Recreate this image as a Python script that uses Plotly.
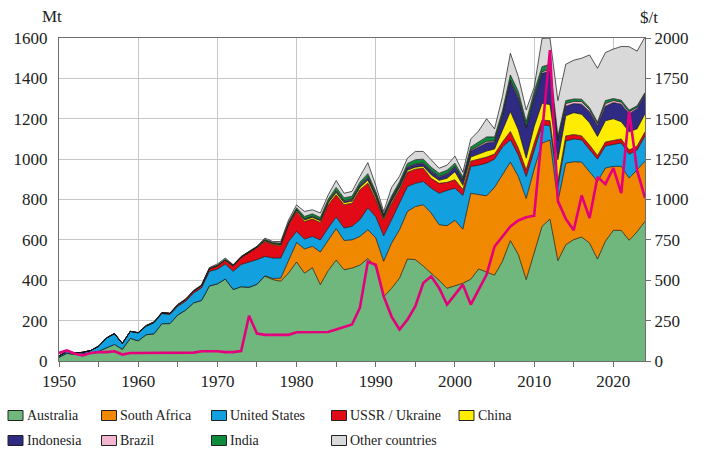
import plotly.graph_objects as go

years = list(range(1950, 2025))

australia = [18, 38, 32, 35, 40, 48, 65, 82, 58, 112,
             100, 130, 135, 185, 185, 228, 252, 288, 300, 372,
             382, 406, 354, 368, 365, 380, 420, 403, 395, 436,
             490, 435, 462, 378, 448, 500, 452, 460, 475, 508,
             465, 318, 360, 410, 505, 502, 470, 435, 400, 360,
             372, 385, 405, 456, 440, 425, 494, 596, 527, 403,
             535, 667, 703, 497, 576, 601, 614, 584, 505, 593,
             647, 647, 598, 640, 692]
south_africa = [0] * 26 + [2, 6, 15, 64,
             97, 120, 106, 162, 152, 156, 145, 140, 142, 142,
             145, 176, 224, 240, 236, 263, 304, 298, 275, 310,
             325, 268, 426, 369, 378, 435, 431, 389, 387, 402,
             415, 412, 392, 293, 404, 386, 371, 355, 384, 363,
             317, 317, 308, 307, 298]
united_states = [7, 10, 8, 8, 12, 25, 49, 54, 29, 35,
             39, 42, 54, 50, 45, 43, 44, 49, 62, 72,
             73, 74, 90, 110, 125, 122, 96, 101, 100, 92,
             55, 49, 49, 60, 59, 57, 62, 67, 83, 108,
             105, 126, 116, 130, 123, 115, 115, 123, 156, 175,
             159, 167, 133, 145, 162, 140, 135, 111, 107, 109,
             96, 91, 70, 74, 110, 113, 110, 111, 111, 109,
             108, 116, 119, 98, 125]
ussr_ukraine = [0] * 10 + [1, 2, 3, 4, 5, 7, 8, 9, 10, 12,
             14, 18, 25, 33, 46, 59, 74, 66, 61, 83,
             99, 87, 86, 86, 115, 110, 115, 115, 148, 123,
             85, 80, 80, 70, 71, 70, 66, 49, 49, 40,
             42, 30, 26, 30, 30, 25, 25, 41, 34, 33,
             33, 24, 25, 25, 25, 22, 20, 20, 18, 20,
             20, 20, 20, 20, 20]
china = [0] * 18 + [1, 2,
             3, 3, 3, 3, 3, 3, 5, 5, 6, 6,
             7, 8, 9, 9, 10, 12, 10, 10, 12, 15,
             12, 8, 10, 10, 10, 10, 10, 17, 15, 20,
             40, 20, 20, 25, 30, 25, 55, 99, 90, 58,
             82, 83, 80, 108, 100, 108, 107, 110, 94, 105,
             108, 85, 90, 85, 90]
indonesia = [0] * 30 + [1, 2, 2, 2, 3, 5, 6, 6, 8, 12,
             12, 10, 12, 12, 13, 13, 13, 18, 15, 20,
             22, 25, 30, 35, 40, 35, 75, 149, 155, 150,
             139, 148, 165, 93, 47, 45, 50, 55, 53, 72,
             80, 87, 90, 100, 93]
brazil = [0] * 11 + [1, 1, 1, 1, 1, 1, 1, 1, 1,
             1, 1, 1, 1, 1, 1, 2, 2, 2, 2,
             2, 3, 3, 3, 3, 4, 4, 4, 4, 5,
             4, 3, 4, 4, 4, 4, 4, 4, 4, 4,
             4, 4, 5, 6, 8, 5, 7, 7, 10, 6,
             10, 8, 10, 6, 13, 11, 13, 10, 9, 13,
             10, 10, 9, 7, 6]
india = [0] * 16 + [1, 1, 1, 1,
             2, 2, 2, 2, 2, 2, 4, 4, 5, 6,
             8, 12, 12, 11, 12, 16, 14, 14, 14, 15,
             12, 8, 12, 12, 16, 20, 18, 16, 16, 16,
             16, 13, 15, 19, 22, 20, 18, 25, 25, 25,
             25, 25, 25, 17, 15, 12, 12, 10, 9, 15,
             10, 10, 9, 7, 6]
other = [0] * 10 + [1, 1, 1, 1, 1, 2, 2, 2, 2, 3,
             6, 6, 2, 1, 1, 1, 6, 5, 8, 11,
             14, 25, 20, 22, 21, 34, 23, 24, 28, 55,
             30, 12, 42, 27, 27, 41, 38, 37, 25, 25,
             35, 23, 40, 55, 90, 40, 70, 107, 74, 58,
             20, 140, 130, 177, 180, 192, 203, 261, 267, 238,
             245, 266, 314, 271, 275]
price = [50, 65, 45, 35, 50, 55, 55, 60, 40, 50,
         50, 50, 50, 50, 50, 50, 50, 52, 60, 60,
         60, 55, 55, 62, 280, 170, 162, 162, 162, 162,
         178, 178, 178, 178, 180, 195, 210, 226, 330, 615,
         596, 400, 275, 195, 256, 339, 483, 524, 452, 349,
         411, 473, 349, 442, 535, 709, 771, 833, 870, 890,
         900, 1420, 1925, 990, 880, 810, 1025, 885, 1140, 1095,
         1195, 1040, 1545, 1180, 1010]

series_names = ["Australia", "South Africa", "United States", "USSR / Ukraine", "China",
                "Indonesia", "Brazil", "India", "Other countries"]
series_values = [australia, south_africa, united_states, ussr_ukraine, china,
                 indonesia, brazil, india, other]
colors = ["#6fb77c", "#f08800", "#12a0df", "#e30a17", "#ffec00",
          "#2f2a82", "#f3b5d0", "#0f8b3d", "#d9d9d9"]

FONT = "Liberation Serif"
fig = go.Figure()
for name, vals, col in zip(series_names, series_values, colors):
    fig.add_trace(go.Scatter(x=years, y=vals, name=name, mode="lines",
                             stackgroup="one", fillcolor=col,
                             line=dict(color="#111111", width=0.7),
                             showlegend=False))
fig.add_trace(go.Scatter(x=years, y=price, name="Price", mode="lines",
                         line=dict(color="#e4007c", width=2.6),
                         yaxis="y2", showlegend=False))

# plot area in pixels
L, R, T, B = 59, 645, 38, 361
W, H = R - L, B - T


def px(x):
    return (x - L) / W


def py(y):
    return (B - y) / H


axis_col = "#6e6e6e"
fig.update_layout(
    width=712, height=461,
    margin=dict(l=L, r=712 - R, t=T, b=461 - B),
    paper_bgcolor="white", plot_bgcolor="white",
    font=dict(family=FONT, size=17, color="#222222"),
    xaxis=dict(range=[1950, 2024], tickvals=list(range(1950, 2021, 10)),
               showgrid=True, gridcolor="#c6c6c6", gridwidth=1,
               showline=True, linecolor=axis_col, linewidth=1, mirror=True,
               ticks="outside", ticklen=5, tickcolor=axis_col,
               minor=dict(tickvals=list(range(1955, 2025, 10)), ticks="outside",
                          ticklen=5, tickcolor=axis_col, showgrid=False),
               zeroline=False, tickfont=dict(size=17)),
    yaxis=dict(range=[0, 1600], dtick=200, showgrid=True, gridcolor="#c6c6c6",
               showline=True, linecolor=axis_col, linewidth=1,
               ticks="outside", ticklen=7, tickcolor="rgba(0,0,0,0)",
               zeroline=False, tickfont=dict(size=17)),
    yaxis2=dict(range=[0, 2000], dtick=250, overlaying="y", side="right",
                showgrid=False, showline=True, linecolor=axis_col, linewidth=1,
                ticks="outside", ticklen=5, tickcolor=axis_col,
                zeroline=False, tickfont=dict(size=17)),
)

ann = []
ann.append(dict(text="Mt", x=px(52), y=py(16), xref="paper", yref="paper",
                showarrow=False, font=dict(size=17, family=FONT, color="#222"),
                xanchor="center", yanchor="middle"))
ann.append(dict(text="$/t", x=px(649), y=py(18), xref="paper", yref="paper",
                showarrow=False, font=dict(size=17, family=FONT, color="#222"),
                xanchor="center", yanchor="middle"))

shapes = []
legend_pos = [(8, 415.5), (101.5, 415.5), (211.5, 415.5), (331.5, 415.5), (459, 415.5),
              (8, 440.5), (101.5, 440.5), (211.5, 440.5), (331.5, 440.5)]
for (lx, ly), name, col in zip(legend_pos, series_names, colors):
    shapes.append(dict(type="rect", xref="paper", yref="paper",
                       x0=px(lx), x1=px(lx + 15), y0=py(ly + 5), y1=py(ly - 5),
                       fillcolor=col, line=dict(color="#222222", width=1)))
    ann.append(dict(text=name, x=px(lx + 16.5), y=py(ly), xref="paper", yref="paper",
                    showarrow=False, xanchor="left", yanchor="middle",
                    font=dict(size=14, family=FONT, color="#222")))

fig.update_layout(annotations=ann, shapes=shapes)
fig.write_html("out.html")
